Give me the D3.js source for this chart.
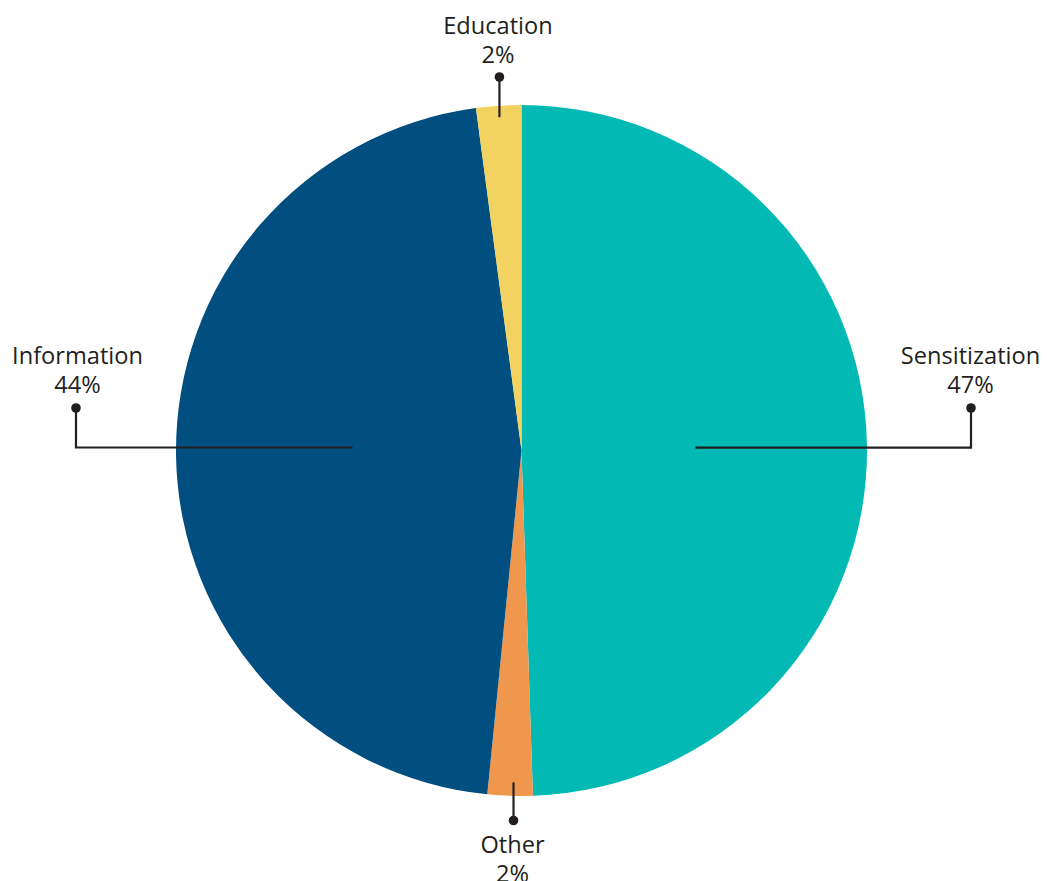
<!DOCTYPE html>
<html>
<head>
<meta charset="utf-8">
<script src="https://cdn.jsdelivr.net/npm/d3@7"></script>
<style>
  html, body { margin: 0; padding: 0; background: #ffffff; }
  svg { display: block; }
  text { font-family: "Open Sans", "Noto Sans", sans-serif; fill: #231f20; }
</style>
</head>
<body>
<svg id="chart" width="1047" height="881"></svg>
<script>
// Share of activities by type (clockwise from 12 o'clock)
const categories = ["Sensitization", "Other", "Information", "Education"];
const values = [47, 2, 44, 2];
const labels = ["47%", "2%", "44%", "2%"];
const colors = ["#03b9b4", "#ef974d", "#004f80", "#f3d35f"];

const width = 1047, height = 881;
const cx = 521.5, cy = 450.5, radius = 345.5;

const svg = d3.select("#chart");
const g = svg.append("g").attr("transform", `translate(${cx},${cy})`);

const pie = d3.pie().sort(null).value(d => d.value);
const arc = d3.arc().innerRadius(0).outerRadius(radius);

const data = categories.map((c, i) => ({ name: c, value: values[i], label: labels[i], color: colors[i] }));
const arcs = pie(data);

g.selectAll("path.slice")
  .data(arcs)
  .join("path")
  .attr("class", "slice")
  .attr("d", arc)
  .attr("fill", d => d.data.color);

// point on a slice's bisector at a given radius (relative to centre)
function polar(a, r) {
  return [r * Math.sin(a), -r * Math.cos(a)];
}
const mid = d => (d.startAngle + d.endAngle) / 2;

// leader lines: [start point inside slice] -> ... -> dot, with the label stacked above/below the dot
const leaders = {
  "Sensitization": d => {
    const p = polar(mid(d), 174);
    const y = p[1];
    return { pts: [[p[0], y], [449.5, y], [449.5, -42.5]], dot: [449.5, -42.5], text: [449, -87] };
  },
  "Information": d => {
    const p = polar(mid(d), 169);
    const y = -3;
    return { pts: [[p[0], y], [-445.5, y], [-445.5, -42.5]], dot: [-445.5, -42.5], text: [-444, -87] };
  },
  "Education": d => {
    const p = polar(mid(d), 334);
    return { pts: [[p[0], p[1]], [p[0], -373.5]], dot: [p[0], -373.5], text: [p[0] - 1.5, -416.5] };
  },
  "Other": d => {
    const p = polar(mid(d), 332);
    const x = p[0] + 3;
    return { pts: [[x, p[1]], [x, 370]], dot: [x, 370], text: [x - 1, 402.5] };
  }
};

const line = d3.line();
const fontSize = 23.6;
const lineGap = 29;

arcs.forEach(d => {
  const L = leaders[d.data.name](d);
  g.append("path")
    .attr("d", line(L.pts))
    .attr("fill", "none")
    .attr("stroke", "#231f20")
    .attr("stroke-width", 2.2);
  g.append("circle")
    .attr("cx", L.dot[0]).attr("cy", L.dot[1])
    .attr("r", 4.8)
    .attr("fill", "#231f20");
  const t = g.append("text")
    .attr("text-anchor", "middle")
    .attr("font-size", fontSize)
    .attr("x", L.text[0]).attr("y", L.text[1]);
  t.append("tspan").attr("x", L.text[0]).attr("dy", 0).text(d.data.name);
  t.append("tspan").attr("x", L.text[0]).attr("dy", lineGap).text(d.data.label);
});
</script>
</body>
</html>
